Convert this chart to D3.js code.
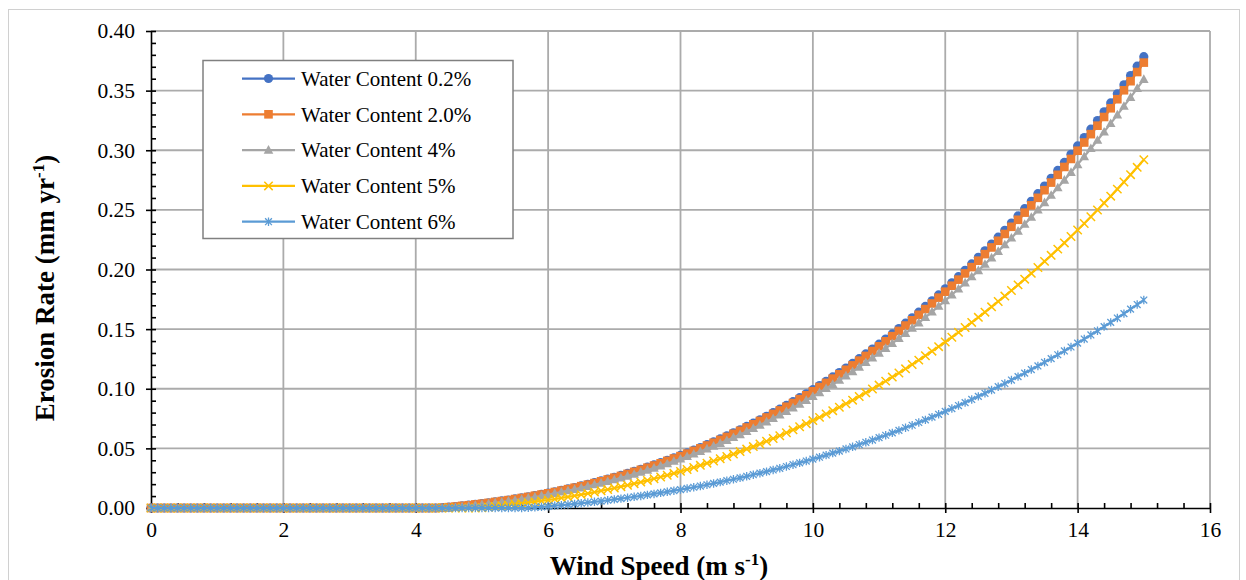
<!DOCTYPE html>
<html>
<head>
<meta charset="utf-8">
<script src="https://cdn.jsdelivr.net/npm/d3@7"></script>
<style>
  body { margin: 0; background: #fff; }
  svg { display: block; }
  text { font-family: "Liberation Serif", "Times New Roman", serif; fill: #000; }
</style>
</head>
<body>
<svg id="chart" width="1246" height="580"></svg>
<script>
// Wind speed (m/s), sampled every 0.1 m/s
const windSpeed = [
  0.0,0.1,0.2,0.3,0.4,0.5,0.6,0.7,0.8,0.9,
  1.0,1.1,1.2,1.3,1.4,1.5,1.6,1.7,1.8,1.9,
  2.0,2.1,2.2,2.3,2.4,2.5,2.6,2.7,2.8,2.9,
  3.0,3.1,3.2,3.3,3.4,3.5,3.6,3.7,3.8,3.9,
  4.0,4.1,4.2,4.3,4.4,4.5,4.6,4.7,4.8,4.9,
  5.0,5.1,5.2,5.3,5.4,5.5,5.6,5.7,5.8,5.9,
  6.0,6.1,6.2,6.3,6.4,6.5,6.6,6.7,6.8,6.9,
  7.0,7.1,7.2,7.3,7.4,7.5,7.6,7.7,7.8,7.9,
  8.0,8.1,8.2,8.3,8.4,8.5,8.6,8.7,8.8,8.9,
  9.0,9.1,9.2,9.3,9.4,9.5,9.6,9.7,9.8,9.9,
  10.0,10.1,10.2,10.3,10.4,10.5,10.6,10.7,10.8,10.9,
  11.0,11.1,11.2,11.3,11.4,11.5,11.6,11.7,11.8,11.9,
  12.0,12.1,12.2,12.3,12.4,12.5,12.6,12.7,12.8,12.9,
  13.0,13.1,13.2,13.3,13.4,13.5,13.6,13.7,13.8,13.9,
  14.0,14.1,14.2,14.3,14.4,14.5,14.6,14.7,14.8,14.9,
  15.0
];

// Erosion rate (mm/yr) for each water content
const erosionWc02 = [
  0,0,0,0,0,0,0,0,0,0,
  0,0,0,0,0,0,0,0,0,0,
  0,0,0,0,0,0,0,0,0,0,
  0,0,0,0,0,0,0,0,0,0,
  0,0,0,0,0.0002,0.0007,0.0012,0.0018,0.0024,0.0030,
  0.0037,0.0044,0.0051,0.0059,0.0067,0.0076,0.0085,0.0094,0.0104,0.0114,
  0.0125,0.0136,0.0148,0.0160,0.0172,0.0185,0.0199,0.0212,0.0227,0.0242,
  0.0257,0.0273,0.0290,0.0307,0.0324,0.0342,0.0361,0.0380,0.0400,0.0420,
  0.0441,0.0462,0.0485,0.0507,0.0531,0.0554,0.0579,0.0604,0.0630,0.0656,
  0.0684,0.0711,0.0740,0.0769,0.0799,0.0829,0.0860,0.0892,0.0925,0.0958,
  0.0992,0.1027,0.1063,0.1099,0.1136,0.1174,0.1212,0.1252,0.1292,0.1333,
  0.1374,0.1417,0.1460,0.1505,0.1550,0.1595,0.1642,0.1690,0.1738,0.1787,
  0.1838,0.1889,0.1940,0.1993,0.2047,0.2102,0.2157,0.2214,0.2271,0.2329,
  0.2389,0.2449,0.2510,0.2572,0.2636,0.2700,0.2765,0.2831,0.2898,0.2966,
  0.3036,0.3106,0.3177,0.3249,0.3323,0.3397,0.3473,0.3549,0.3627,0.3705,
  0.3785
];

const erosionWc20 = [
  0,0,0,0,0,0,0,0,0,0,
  0,0,0,0,0,0,0,0,0,0,
  0,0,0,0,0,0,0,0,0,0,
  0,0,0,0,0,0,0,0,0,0,
  0,0,0,0,0.0002,0.0007,0.0012,0.0018,0.0023,0.0030,
  0.0036,0.0043,0.0051,0.0058,0.0066,0.0075,0.0084,0.0093,0.0103,0.0113,
  0.0123,0.0134,0.0146,0.0158,0.0170,0.0183,0.0196,0.0209,0.0224,0.0239,
  0.0254,0.0269,0.0286,0.0303,0.0320,0.0338,0.0356,0.0375,0.0395,0.0415,
  0.0435,0.0456,0.0479,0.0500,0.0524,0.0547,0.0571,0.0596,0.0622,0.0647,
  0.0675,0.0702,0.0730,0.0759,0.0789,0.0818,0.0849,0.0880,0.0913,0.0945,
  0.0979,0.1014,0.1049,0.1085,0.1121,0.1159,0.1196,0.1236,0.1275,0.1316,
  0.1356,0.1398,0.1441,0.1485,0.1530,0.1574,0.1620,0.1668,0.1715,0.1764,
  0.1814,0.1864,0.1915,0.1967,0.2020,0.2074,0.2129,0.2185,0.2241,0.2298,
  0.2358,0.2417,0.2477,0.2538,0.2601,0.2665,0.2729,0.2794,0.2860,0.2927,
  0.2996,0.3065,0.3135,0.3206,0.3279,0.3352,0.3428,0.3503,0.3579,0.3656,
  0.3735
];

const erosionWc4 = [
  0,0,0,0,0,0,0,0,0,0,
  0,0,0,0,0,0,0,0,0,0,
  0,0,0,0,0,0,0,0,0,0,
  0,0,0,0,0,0,0,0,0,0,
  0,0,0,0,0,0.0001,0.0006,0.0011,0.0017,0.0023,
  0.0029,0.0036,0.0043,0.0050,0.0058,0.0066,0.0074,0.0083,0.0092,0.0102,
  0.0112,0.0123,0.0134,0.0145,0.0157,0.0169,0.0182,0.0195,0.0209,0.0223,
  0.0237,0.0252,0.0268,0.0284,0.0301,0.0318,0.0335,0.0354,0.0372,0.0392,
  0.0411,0.0432,0.0453,0.0474,0.0496,0.0519,0.0542,0.0566,0.0591,0.0616,
  0.0642,0.0668,0.0695,0.0723,0.0751,0.0780,0.0810,0.0840,0.0871,0.0903,
  0.0935,0.0968,0.1002,0.1037,0.1072,0.1108,0.1144,0.1182,0.1220,0.1259,
  0.1299,0.1339,0.1380,0.1423,0.1465,0.1509,0.1553,0.1599,0.1645,0.1692,
  0.1739,0.1788,0.1837,0.1888,0.1939,0.1991,0.2044,0.2098,0.2152,0.2208,
  0.2264,0.2322,0.2380,0.2439,0.2499,0.2561,0.2623,0.2686,0.2750,0.2815,
  0.2880,0.2947,0.3015,0.3084,0.3154,0.3225,0.3297,0.3370,0.3444,0.3519,
  0.3595
];

const erosionWc5 = [
  0,0,0,0,0,0,0,0,0,0,
  0,0,0,0,0,0,0,0,0,0,
  0,0,0,0,0,0,0,0,0,0,
  0,0,0,0,0,0,0,0,0,0,
  0,0,0,0,0,0,0,0,0,0,
  0.0002,0.0007,0.0013,0.0018,0.0024,0.0031,0.0037,0.0044,0.0051,0.0059,
  0.0067,0.0075,0.0084,0.0093,0.0102,0.0112,0.0122,0.0133,0.0144,0.0155,
  0.0167,0.0179,0.0191,0.0204,0.0217,0.0231,0.0245,0.0260,0.0275,0.0291,
  0.0307,0.0323,0.0340,0.0358,0.0376,0.0394,0.0413,0.0432,0.0452,0.0473,
  0.0494,0.0515,0.0537,0.0560,0.0583,0.0606,0.0631,0.0655,0.0681,0.0707,
  0.0733,0.0760,0.0788,0.0816,0.0845,0.0874,0.0904,0.0935,0.0966,0.0998,
  0.1031,0.1064,0.1098,0.1132,0.1167,0.1203,0.1240,0.1277,0.1315,0.1353,
  0.1392,0.1432,0.1473,0.1514,0.1556,0.1599,0.1642,0.1687,0.1732,0.1777,
  0.1824,0.1871,0.1919,0.1968,0.2017,0.2068,0.2119,0.2171,0.2223,0.2277,
  0.2331,0.2386,0.2442,0.2499,0.2557,0.2615,0.2674,0.2734,0.2795,0.2857,
  0.2920
];

const erosionWc6 = [
  0,0,0,0,0,0,0,0,0,0,
  0,0,0,0,0,0,0,0,0,0,
  0,0,0,0,0,0,0,0,0,0,
  0,0,0,0,0,0,0,0,0,0,
  0,0,0,0,0,0,0,0,0,0,
  0,0,0,0,0,0,0,0.0002,0.0006,0.0010,
  0.0014,0.0019,0.0024,0.0029,0.0035,0.0040,0.0046,0.0052,0.0058,0.0065,
  0.0072,0.0079,0.0086,0.0094,0.0101,0.0110,0.0118,0.0127,0.0136,0.0145,
  0.0154,0.0164,0.0174,0.0184,0.0195,0.0206,0.0217,0.0229,0.0241,0.0253,
  0.0266,0.0279,0.0292,0.0305,0.0319,0.0333,0.0348,0.0363,0.0378,0.0394,
  0.0410,0.0426,0.0443,0.0460,0.0477,0.0495,0.0513,0.0532,0.0551,0.0570,
  0.0590,0.0610,0.0630,0.0651,0.0673,0.0694,0.0717,0.0739,0.0762,0.0786,
  0.0810,0.0834,0.0859,0.0884,0.0910,0.0936,0.0962,0.0989,0.1017,0.1044,
  0.1073,0.1102,0.1131,0.1161,0.1191,0.1222,0.1253,0.1285,0.1317,0.1350,
  0.1383,0.1417,0.1451,0.1486,0.1521,0.1557,0.1593,0.1630,0.1668,0.1706,
  0.1744
];

const seriesNames = [
  "Water Content 0.2%",
  "Water Content 2.0%",
  "Water Content 4%",
  "Water Content 5%",
  "Water Content 6%"
];
const seriesValues = [erosionWc02, erosionWc20, erosionWc4, erosionWc5, erosionWc6];
const seriesColors = ["#4472C4", "#ED7D31", "#A5A5A5", "#FFC000", "#5B9BD5"];
const seriesMarkers = ["circle", "square", "triangle", "cross", "asterisk"];

const xTicks = [0, 2, 4, 6, 8, 10, 12, 14, 16];
const xMinorTicks = [0.4,0.8,1.2,1.6,2.4,2.8,3.2,3.6,4.4,4.8,5.2,5.6,6.4,6.8,7.2,7.6,
  8.4,8.8,9.2,9.6,10.4,10.8,11.2,11.6,12.4,12.8,13.2,13.6,14.4,14.8,15.2,15.6];
const yTicks = [0, 0.05, 0.10, 0.15, 0.20, 0.25, 0.30, 0.35, 0.40];
const yMinorTicks = [0.01,0.02,0.03,0.04,0.06,0.07,0.08,0.09,0.11,0.12,0.13,0.14,
  0.16,0.17,0.18,0.19,0.21,0.22,0.23,0.24,0.26,0.27,0.28,0.29,0.31,0.32,0.33,0.34,
  0.36,0.37,0.38,0.39];

const svg = d3.select("#chart");
const plot = { left: 151, right: 1210, top: 31, bottom: 508 };
const serif = "'Liberation Serif','Times New Roman',serif";

const x = d3.scaleLinear().domain([0, 16]).range([plot.left, plot.right]);
const y = d3.scaleLinear().domain([0, 0.40]).range([plot.bottom, plot.top]);

// chart frame
svg.append("rect")
  .attr("x", 8.5).attr("y", 9.5).attr("width", 1231).attr("height", 620)
  .attr("fill", "#fff").attr("stroke", "#d0d0d0").attr("stroke-width", 1);

// gridlines
const grid = svg.append("g").attr("stroke", "#ababab").attr("stroke-width", 1.8);
grid.selectAll("line.v").data(xTicks.filter(d => d > 0)).join("line")
  .attr("x1", d => x(d)).attr("x2", d => x(d))
  .attr("y1", plot.top).attr("y2", plot.bottom);
grid.selectAll("line.h").data(yTicks.filter(d => d > 0)).join("line")
  .attr("x1", plot.left).attr("x2", plot.right)
  .attr("y1", d => y(d)).attr("y2", d => y(d));

// axes
const tickFont = 21.5;
const yAxis = svg.append("g").attr("transform", `translate(${plot.left},0)`)
  .call(d3.axisLeft(y).tickValues(yTicks).tickFormat(d3.format(".2f"))
    .tickSize(5).tickSizeOuter(0).tickPadding(11));
yAxis.selectAll(".tick line").attr("x1", 5);
const yMinor = svg.append("g").attr("transform", `translate(${plot.left},0)`)
  .call(d3.axisLeft(y).tickValues(yMinorTicks).tickFormat("").tickSize(-5).tickSizeOuter(0));
yMinor.select(".domain").remove();

const xAxis = svg.append("g").attr("transform", `translate(0,${plot.bottom})`)
  .call(d3.axisBottom(x).tickValues(xTicks).tickFormat(d3.format("d"))
    .tickSize(5).tickSizeOuter(0).tickPadding(8.5));
xAxis.selectAll(".tick line").attr("y1", -5);
const xMinor = svg.append("g").attr("transform", `translate(0,${plot.bottom})`)
  .call(d3.axisBottom(x).tickValues(xMinorTicks).tickFormat("").tickSize(-5).tickSizeOuter(0));
xMinor.select(".domain").remove();

svg.selectAll(".domain, .tick line").attr("stroke", "#000").attr("stroke-width", 1.6);
svg.selectAll(".tick text")
  .attr("font-family", serif).attr("font-size", tickFont).attr("fill", "#000");

// axis titles
const xTitle = svg.append("text")
  .attr("x", 659).attr("y", 575).attr("text-anchor", "middle")
  .attr("font-family", serif).attr("font-size", 27).attr("font-weight", "bold");
xTitle.append("tspan").text("Wind Speed (m s");
xTitle.append("tspan").attr("font-size", 17).attr("dy", -10).text("-1");
xTitle.append("tspan").attr("dy", 10).text(")");

const yTitle = svg.append("text")
  .attr("transform", "translate(54,288) rotate(-90)").attr("text-anchor", "middle")
  .attr("font-family", serif).attr("font-size", 27).attr("font-weight", "bold");
yTitle.append("tspan").text("Erosion Rate (mm yr");
yTitle.append("tspan").attr("font-size", 17).attr("dy", -10).text("-1");
yTitle.append("tspan").attr("dy", 10).text(")");

// marker shapes
function drawMarker(g, type, color) {
  if (type === "circle") {
    g.append("circle").attr("r", 4.6).attr("fill", color);
  } else if (type === "square") {
    g.append("rect").attr("x", -4.3).attr("y", -4.3).attr("width", 8.6).attr("height", 8.6).attr("fill", color);
  } else if (type === "triangle") {
    g.append("path").attr("d", "M0,-5L4.8,3.6L-4.8,3.6Z").attr("fill", color);
  } else if (type === "cross") {
    g.append("path").attr("d", "M-4.2,-4.2L4.2,4.2M-4.2,4.2L4.2,-4.2")
      .attr("stroke", color).attr("stroke-width", 1.5).attr("fill", "none");
  } else if (type === "asterisk") {
    g.append("path").attr("d", "M-3.4,-3.4L3.4,3.4M-3.4,3.4L3.4,-3.4M0,-4.2L0,4.2")
      .attr("stroke", color).attr("stroke-width", 1.3).attr("fill", "none");
  }
}

// series: line then markers, in drawing order
const line = d3.line().x(d => x(d[0])).y(d => y(d[1]));
seriesValues.forEach((vals, i) => {
  const pts = windSpeed.map((u, j) => [u, vals[j]]);
  const g = svg.append("g");
  g.append("path").datum(pts).attr("d", line)
    .attr("fill", "none").attr("stroke", seriesColors[i]).attr("stroke-width", 2.25);
  g.selectAll("g.m").data(pts).join("g")
    .attr("transform", d => `translate(${x(d[0])},${y(d[1])})`)
    .each(function () { drawMarker(d3.select(this), seriesMarkers[i], seriesColors[i]); });
});

// legend
const legend = svg.append("g");
legend.append("rect").attr("x", 203).attr("y", 60.5).attr("width", 310).attr("height", 178)
  .attr("fill", "#fff").attr("stroke", "#808080").attr("stroke-width", 1.5);
seriesNames.forEach((name, i) => {
  const yy = 78.5 + i * 35.8;
  const item = legend.append("g");
  item.append("line").attr("x1", 242).attr("x2", 295).attr("y1", yy).attr("y2", yy)
    .attr("stroke", seriesColors[i]).attr("stroke-width", 2.25);
  drawMarker(item.append("g").attr("transform", `translate(268.5,${yy})`), seriesMarkers[i], seriesColors[i]);
  item.append("text").attr("x", 301).attr("y", yy).attr("dy", "0.35em")
    .attr("font-family", serif).attr("font-size", 21).text(name);
});
</script>
</body>
</html>
